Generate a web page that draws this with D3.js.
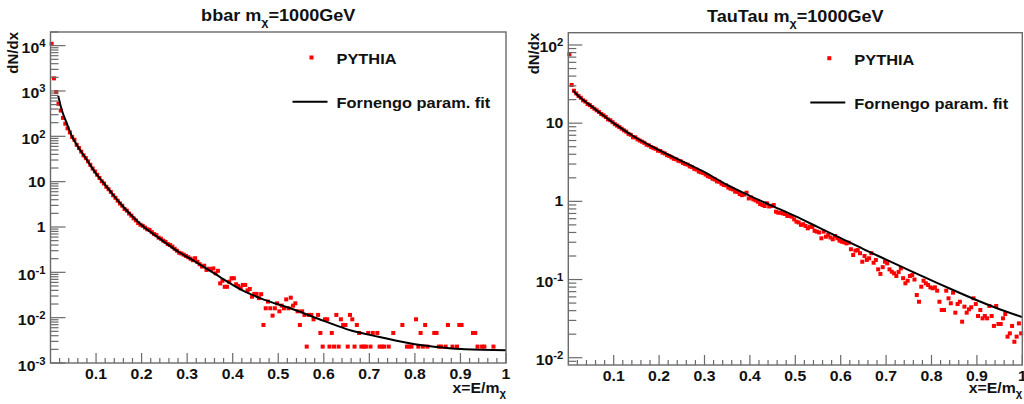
<!DOCTYPE html>
<html>
<head>
<meta charset="utf-8">
<script src="https://cdn.jsdelivr.net/npm/d3@7"></script>
<style>
  body { margin: 0; background: #fff; }
  text { font-family: "Liberation Sans", Arial, Helvetica, sans-serif; font-weight: bold; fill: #111; }
</style>
</head>
<body>
<svg id="chart" width="1024" height="404"></svg>
<script>
// histogram binning: 200 bins of width 0.005 on x = E/m
const binWidth = 0.005;

// bbar, PYTHIA histogram (0 = empty bin)
const bbarPythia = [
  11000, 1900, 950, 520, 370, 255, 190, 150, 122, 97,
  84, 65, 55, 46, 38, 33, 28, 23.5, 19.5, 16.8,
  14.2, 12.1, 10.2, 9.1, 7.7, 6.8, 5.9, 5.0, 4.4, 3.8,
  3.3, 2.95, 2.5, 2.3, 1.98, 1.78, 1.55, 1.40, 1.22, 1.12,
  1.06, 0.97, 0.89, 0.86, 0.77, 0.70, 0.66, 0.58, 0.55, 0.50,
  0.47, 0.42, 0.40, 0.37, 0.33, 0.30, 0.27, 0.26, 0.245, 0.23,
  0.215, 0.20, 0.185, 0.205, 0.17, 0.151, 0.134, 0.14, 0.113, 0.12,
  0.116, 0.122, 0.095, 0.108, 0.057, 0.065, 0.048, 0.048, 0.062, 0.074,
  0.074, 0.0546, 0.05, 0.0445, 0.0527, 0.0527, 0.040, 0.043, 0.029, 0.0334,
  0.0334, 0.027, 0.033, 0.0069, 0.0161, 0.0226, 0.0161, 0.0111, 0.0161, 0.0207,
  0.0138, 0.0184, 0.0161, 0.0253, 0.0161, 0.0276, 0.0184, 0.0207, 0.0138, 0.0069,
  0.0138, 0.0115, 0.0023, 0.0115, 0.0115, 0.0092, 0, 0.0115, 0.0046, 0.0023,
  0.0092, 0.0092, 0.0023, 0.0046, 0.0023, 0.0115, 0.0023, 0.0092, 0.0069, 0.0069,
  0.0023, 0.0115, 0.0092, 0.0023, 0.0069, 0.0046, 0.0023, 0.0023, 0.0023, 0.0046,
  0.0023, 0.0046, 0, 0.0046, 0.0023, 0.0023, 0.0023, 0, 0.0023, 0,
  0.0046, 0, 0, 0, 0.0069, 0, 0.0023, 0.0023, 0.0023, 0,
  0.0092, 0.0023, 0.0046, 0.0023, 0.0069, 0.0023, 0, 0, 0.0046, 0.0046,
  0.0023, 0.0023, 0, 0.0023, 0.0069, 0, 0.0023, 0, 0.0023, 0.0069,
  0.0069, 0, 0, 0, 0, 0.0046, 0.0046, 0.0023, 0, 0.0023,
  0.0023, 0, 0, 0, 0.0023, 0, 0, 0, 0, 0
];
// bbar, Fornengo parametrisation
const bbarFitX = [0.017, 0.0246, 0.0356, 0.047, 0.0575, 0.08, 0.10, 0.12, 0.15, 0.196, 0.24, 0.284,
  0.317, 0.357, 0.427, 0.46, 0.537, 0.60, 0.66, 0.72, 0.80, 0.86, 0.91, 1.0];
const bbarFitY = [780, 385, 195, 100, 65, 30, 15, 8.5, 3.6, 1.2, 0.55, 0.27,
  0.175, 0.098, 0.0375, 0.027, 0.0148, 0.0085, 0.0052, 0.0038, 0.0026, 0.0022, 0.0020, 0.0019];

// TauTau, PYTHIA histogram
const tautauPythia = [
  76, 30.8, 26, 24.0, 22.3, 21.1, 19.6, 18.9, 17.6, 17.0,
  16.1, 15.3, 14.6, 13.9, 13.1, 12.6, 12.0, 11.2, 10.9, 10.3,
  9.7, 9.3, 8.9, 8.5, 8.1, 7.8, 7.3, 7.1, 6.6, 6.6,
  6.2, 6.0, 5.8, 5.6, 5.3, 5.2, 4.95, 4.8, 4.7, 4.45,
  4.4, 4.2, 4.1, 3.9, 3.8, 3.65, 3.5, 3.45, 3.3, 3.25,
  3.1, 3.0, 2.95, 2.8, 2.75, 2.6, 2.55, 2.4, 2.35, 2.3,
  2.2, 2.1, 2.05, 1.95, 1.9, 1.8, 1.78, 1.68, 1.62, 1.6,
  1.5, 1.45, 1.42, 1.33, 1.32, 1.24, 1.20, 1.22, 1.29, 1.09,
  1.12, 1.06, 1.03, 0.99, 0.925, 0.90, 0.873, 0.944, 0.86, 0.873,
  0.898, 0.738, 0.716, 0.716, 0.70, 0.689, 0.65, 0.65, 0.637, 0.589,
  0.55, 0.537, 0.50, 0.51, 0.484, 0.452, 0.474, 0.47, 0.42, 0.41,
  0.40, 0.337, 0.41, 0.353, 0.371, 0.345, 0.327, 0.36, 0.337, 0.314,
  0.305, 0.30, 0.29, 0.296, 0.244, 0.206, 0.234, 0.238, 0.217, 0.169,
  0.20, 0.178, 0.187, 0.217, 0.164, 0.178, 0.135, 0.118, 0.144, 0.169,
  0.161, 0.135, 0.126, 0.12, 0.111, 0.125, 0.139, 0.104, 0.0895, 0.0966,
  0.111, 0.114, 0.10, 0.0634, 0.052, 0.081, 0.0966, 0.0895, 0.0851, 0.0794,
  0.0772, 0.0794, 0.072, 0.052, 0.0408, 0.0408, 0.072, 0.0575, 0.0497, 0.0679,
  0.0377, 0.0486, 0.052, 0.0289, 0.045, 0.0377, 0.0416, 0.0442, 0.0575, 0.0486,
  0.0342, 0.0408, 0.0319, 0.0342, 0.0319, 0.0459, 0.0342, 0.0255, 0.0459, 0.027,
  0.027, 0.0319, 0.0362, 0.0186, 0.0205, 0.0255, 0.016, 0.0186, 0.0275, 0.0205
];
const tautauFitX = [0.01, 0.02, 0.03, 0.05, 0.07, 0.10, 0.15, 0.20, 0.25, 0.30, 0.35, 0.40,
  0.45, 0.50, 0.55, 0.60, 0.65, 0.70, 0.75, 0.80, 0.85, 0.90, 0.95, 1.0];
const tautauFitY = [26.3, 22.9, 20.4, 16.6, 13.5, 10.0, 6.46, 4.52, 3.27, 2.37, 1.62, 1.175,
  0.871, 0.646, 0.468, 0.339, 0.245, 0.180, 0.132, 0.0977, 0.0724, 0.0543, 0.0417, 0.0331];

// axis ticks and labels
const xTickValues = [0.1, 0.2, 0.3, 0.4, 0.5, 0.6, 0.7, 0.8, 0.9, 1.0];
const xTickLabels = ["0.1", "0.2", "0.3", "0.4", "0.5", "0.6", "0.7", "0.8", "0.9", "1"];
const bbarYTicks = [1e-3, 1e-2, 1e-1, 1, 10, 100, 1000, 10000];
const bbarYLabels = ["10^-3", "10^-2", "10^-1", "1", "10", "10^2", "10^3", "10^4"];
const tautauYTicks = [1e-2, 1e-1, 1, 10, 100];
const tautauYLabels = ["10^-2", "10^-1", "1", "10", "10^2"];
const legendLabels = ["PYTHIA", "Fornengo param. fit"];

const stretch = 1.13;   // the picture is a bit wider than tall
const frameColor = "#6a6a6a";
const svg = d3.select("#chart");

function addText(parent, x, y, parts, opts) {
  const sx = opts.sx === undefined ? stretch : opts.sx;
  const t = parent.append("text")
    .attr("transform", `translate(${x},${y}) scale(${sx},1)` + (opts.rotate ? ` rotate(${opts.rotate})` : ""))
    .attr("text-anchor", opts.anchor || "start")
    .style("font-size", opts.size + "px");
  let shift = 0;
  parts.forEach(p => {
    const s = p.shift || 0;
    t.append("tspan")
      .attr("dy", s - shift)
      .style("font-size", (p.size || opts.size) + "px")
      .text(p.text);
    shift = s;
  });
  return t;
}

function drawPanel(p) {
  const g = svg.append("g");
  const x = d3.scaleLinear().domain([0, 1]).range([p.left, p.right]);
  const y = d3.scaleLog().domain(p.yDomain).range([p.bottom, p.top]);

  // title
  addText(g, (p.left + p.right) / 2, p.titleY,
    [{text: p.title + " m"}, {text: "χ", shift: 5, size: 11}, {text: "=1000GeV"}],
    {size: 16, anchor: "middle"});

  // PYTHIA points
  const pts = p.values.map((v, i) => [binWidth * (i + 0.5), v]).filter(d => d[1] > 0);
  g.append("g").selectAll("rect").data(pts).join("rect")
    .attr("x", d => x(d[0]) - 2)
    .attr("y", d => y(d[1]) - 2)
    .attr("width", 4).attr("height", 4)
    .attr("fill", "#ff0000");

  // fit curve
  const line = d3.line()
    .x(d => x(d[0])).y(d => y(d[1]))
    .curve(d3.curveMonotoneX);
  g.append("path")
    .datum(p.fitX.map((v, i) => [v, p.fitY[i]]))
    .attr("d", line)
    .attr("fill", "none").attr("stroke", "#000").attr("stroke-width", 2);

  // frame
  g.append("rect")
    .attr("x", p.left).attr("y", p.top)
    .attr("width", p.right - p.left).attr("height", p.bottom - p.top)
    .attr("fill", "none").attr("stroke", frameColor).attr("stroke-width", 1.4);

  // x ticks (major 0.1, minor 0.02)
  const xMinor = d3.range(1, 50).map(k => k * 0.02).filter(v => Math.abs(v * 10 - Math.round(v * 10)) > 1e-6);
  g.append("g").selectAll("line").data(xMinor).join("line")
    .attr("x1", d => x(d)).attr("x2", d => x(d))
    .attr("y1", p.bottom).attr("y2", p.bottom - 5)
    .attr("stroke", frameColor).attr("stroke-width", 1.2);
  g.append("g").selectAll("line").data(xTickValues).join("line")
    .attr("x1", d => x(d)).attr("x2", d => x(d))
    .attr("y1", p.bottom).attr("y2", p.bottom - 10)
    .attr("stroke", frameColor).attr("stroke-width", 1.2);
  xTickValues.forEach((v, i) => {
    addText(g, x(v), p.bottom + 16, [{text: xTickLabels[i]}], {size: 14, anchor: "middle"});
  });

  // y ticks (log)
  const yAll = y.ticks();
  const isDecade = v => Math.abs(Math.log10(v) - Math.round(Math.log10(v))) < 1e-9;
  g.append("g").selectAll("line").data(yAll.filter(v => !isDecade(v))).join("line")
    .attr("x1", p.left).attr("x2", p.left + 8)
    .attr("y1", d => y(d)).attr("y2", d => y(d))
    .attr("stroke", frameColor).attr("stroke-width", 1.2);
  g.append("g").selectAll("line").data(p.yTicks).join("line")
    .attr("x1", p.left).attr("x2", p.left + p.majorLen)
    .attr("y1", d => y(d)).attr("y2", d => y(d))
    .attr("stroke", frameColor).attr("stroke-width", 1.2);
  p.yTicks.forEach((v, i) => {
    const lab = p.yLabels[i].split("^");
    if (lab.length === 2) {
      addText(g, p.left - 5, y(v) + 7.5,
        [{text: lab[0]}, {text: lab[1], shift: -6, size: 10}], {size: 14, anchor: "end"});
    } else {
      addText(g, p.left - 5, y(v) + 5, [{text: lab[0]}], {size: 14, anchor: "end"});
    }
  });

  // axis titles
  addText(g, p.right, p.xTitleY, [{text: "x=E/m"}, {text: "χ", shift: 4, size: 10}],
    {size: 14, anchor: "end"});
  addText(g, p.yTitleX, p.top, [{text: "dN/dx"}], {size: 15, anchor: "end", sx: 1, rotate: -90});

  // legend
  const lx = p.left;
  g.append("rect")
    .attr("x", lx + 261 - 2).attr("y", p.top + 25.5 - 2)
    .attr("width", 4).attr("height", 4).attr("fill", "#ff0000");
  addText(g, lx + 286, p.top + 32, [{text: legendLabels[0]}], {size: 14.5});
  g.append("line")
    .attr("x1", lx + 242).attr("x2", lx + 277)
    .attr("y1", p.top + 69.7).attr("y2", p.top + 69.7)
    .attr("stroke", "#000").attr("stroke-width", 2);
  addText(g, lx + 286, p.top + 76.3, [{text: legendLabels[1]}], {size: 14.5});
}

drawPanel({
  title: "bbar", values: bbarPythia, fitX: bbarFitX, fitY: bbarFitY,
  left: 50.5, right: 506, top: 32, bottom: 363,
  yDomain: [1e-3, 2.0e4], yTicks: bbarYTicks, yLabels: bbarYLabels, majorLen: 15,
  titleY: 20.5, xTitleY: 393, yTitleX: 18
});
drawPanel({
  title: "TauTau", values: tautauPythia, fitX: tautauFitX, fitY: tautauFitY,
  left: 568.3, right: 1022.3, top: 32.7, bottom: 365,
  yDomain: [0.00807, 143.6], yTicks: tautauYTicks, yLabels: tautauYLabels, majorLen: 14,
  titleY: 22, xTitleY: 393, yTitleX: 538.5
});
</script>
</body>
</html>
